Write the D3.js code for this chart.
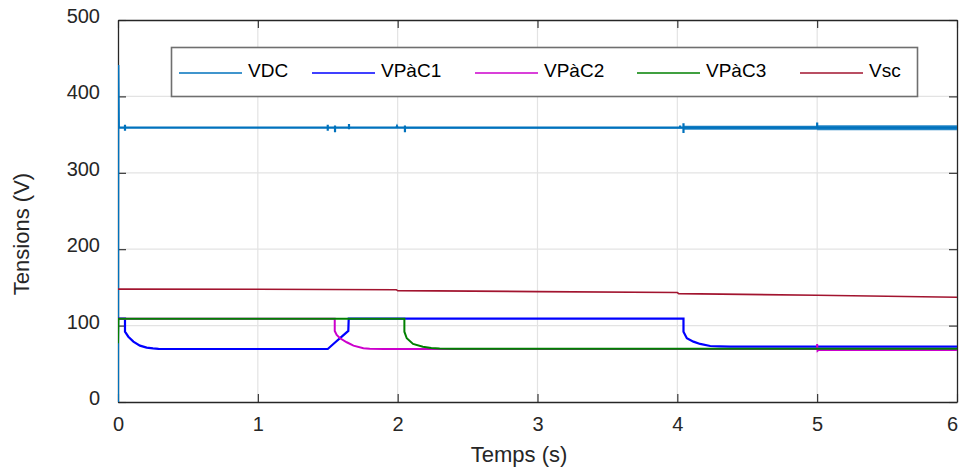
<!DOCTYPE html>
<html>
<head>
<meta charset="utf-8">
<script src="https://cdn.jsdelivr.net/npm/d3@7/dist/d3.min.js"></script>
<style>
  html, body { margin: 0; padding: 0; background: #fff; }
  svg { display: block; font-family: "Liberation Sans", Arial, Helvetica, sans-serif; }
</style>
</head>
<body>
<svg id="chart" width="959" height="470"></svg>
<script>
// ---- data -------------------------------------------------------------
const seriesNames = ["VDC", "VPàC1", "VPàC2", "VPàC3", "Vsc"];
const xTicks = [0, 1, 2, 3, 4, 5, 6];
const yTicks = [0, 100, 200, 300, 400, 500];

// DC bus voltage (time s, value V), with the short switching spikes
const vdcT = [0, 0.002, 0.006, 0.05, 0.05, 0.05, 0.05, 1.50, 1.50, 1.50, 1.50, 1.552, 1.552, 1.552, 1.552,
              1.652, 1.652, 1.652, 1.652, 1.99, 1.995, 2.0, 2.052, 2.052, 2.052, 2.052,
              4.02, 4.02, 4.02, 4.044, 4.044, 4.044, 4.044, 5.0, 5.0, 5.0, 6.0];
const vdcV = [0, 441, 359, 359, 363, 355, 359, 359, 363, 355, 359, 359, 362, 353, 359,
              359, 364, 357, 359, 359, 361, 359, 359, 362, 353, 359,
              359, 362, 359, 359, 365, 352, 359, 359, 366, 359, 359];
// half-width of the DC bus ripple band (time s, V)
const rippleT = [2.052, 4.044, 4.044, 5.0, 5.0, 6.0];
const rippleV = [1.0, 1.0, 2.6, 2.6, 3.2, 3.2];

// supercapacitor-side converter voltages
const pac1T = [0, 0.05, 0.05, 0.074, 0.11, 0.157, 0.205, 0.25, 0.29, 0.35, 1.50, 1.55, 1.60, 1.647, 1.65,
               4.044, 4.044, 4.068, 4.115, 4.163, 4.235, 4.30, 4.378, 4.5, 6.0];
const pac1V = [109, 109, 92, 85.5, 79, 73.8, 71.2, 70.2, 69.6, 69.4, 69.4, 77.5, 85.5, 93, 109,
               109, 92, 83.4, 79, 76, 73.3, 72.8, 72.4, 72.4, 72.4];
const pac2T = [0, 1.55, 1.55, 1.564, 1.588, 1.636, 1.684, 1.755, 1.80, 1.90, 5.0, 5.0, 5.003, 5.01, 6.0];
const pac2V = [109, 109, 93, 87.7, 83.4, 78.2, 73.8, 70.3, 69.6, 69.4, 69.4, 76, 67, 68, 68];
const pac3T = [0, 0.003, 2.048, 2.048, 2.065, 2.11, 2.18, 2.24, 2.30, 2.40, 6.0];
const pac3V = [77, 109, 109, 92, 83.4, 76, 72.4, 70.8, 70.0, 69.8, 69.8];

// supercapacitor voltage
const vscT = [0, 1.0, 1.99, 2.0, 3.0, 4.0, 4.01, 5.0, 6.0];
const vscV = [147.8, 147.5, 147.0, 145.8, 144.5, 143.3, 141.8, 139.8, 137.2];

// ---- layout -------------------------------------------------------------
const plot = { left: 118, right: 957, top: 20, bottom: 402 };
const colors = ["#0072BD", "#0000FF", "#CC00CC", "#008000", "#A2142F"];
const axisColor = "#262626";
const gridColor = "#e3e3e3";

const svg = d3.select("#chart");
const x = d3.scaleLinear().domain([0, 6]).range([plot.left, plot.right]);
const y = d3.scaleLinear().domain([0, 500]).range([plot.bottom, plot.top]);

svg.append("defs").append("clipPath").attr("id", "plotClip")
  .append("rect").attr("x", plot.left).attr("y", plot.top)
  .attr("width", plot.right - plot.left).attr("height", plot.bottom - plot.top);

// grid
const grid = svg.append("g");
grid.selectAll("line.gx").data(xTicks.slice(1, -1)).join("line")
  .attr("x1", d => x(d)).attr("x2", d => x(d))
  .attr("y1", plot.top).attr("y2", plot.bottom)
  .attr("stroke", gridColor).attr("stroke-width", 1.2);
grid.selectAll("line.gy").data(yTicks.slice(1, -1)).join("line")
  .attr("y1", d => y(d)).attr("y2", d => y(d))
  .attr("x1", plot.left).attr("x2", plot.right)
  .attr("stroke", gridColor).attr("stroke-width", 1.2);

// box and inward ticks via d3 axes
const tickLen = 8;
function styleAxis(g) {
  g.select(".domain").attr("stroke", axisColor).attr("stroke-width", 1.3);
  g.selectAll(".tick line").attr("stroke", axisColor).attr("stroke-width", 1.1);
}
const xAxisB = svg.append("g").attr("transform", `translate(0,${plot.bottom})`)
  .call(d3.axisBottom(x).tickValues(xTicks).tickSize(-tickLen).tickSizeOuter(0).tickFormat(d3.format("d")));
styleAxis(xAxisB);
xAxisB.selectAll(".tick text").attr("fill", axisColor).attr("font-size", 20)
  .attr("y", 0).attr("dy", 0)
  .attr("transform", d => d === 6 ? "translate(-5,29)" : "translate(0,29)");
const xAxisT = svg.append("g").attr("transform", `translate(0,${plot.top})`)
  .call(d3.axisTop(x).tickValues(xTicks).tickSize(-tickLen).tickSizeOuter(0).tickFormat(""));
styleAxis(xAxisT);
const yAxisL = svg.append("g").attr("transform", `translate(${plot.left},0)`)
  .call(d3.axisLeft(y).tickValues(yTicks).tickSize(-tickLen).tickSizeOuter(0).tickFormat(d3.format("d")));
styleAxis(yAxisL);
yAxisL.selectAll(".tick text").attr("fill", axisColor).attr("font-size", 20)
  .attr("x", -18).attr("dy", "0.32em").attr("transform", "translate(0,-4)");
const yAxisR = svg.append("g").attr("transform", `translate(${plot.right},0)`)
  .call(d3.axisRight(y).tickValues(yTicks).tickSize(-tickLen).tickSizeOuter(0).tickFormat(""));
styleAxis(yAxisR);
svg.selectAll(".tick text").attr("font-family", "Liberation Sans, Arial, sans-serif");

// axis titles
svg.append("text").attr("x", 519).attr("y", 462)
  .attr("text-anchor", "middle").attr("font-size", 22).attr("fill", axisColor)
  .text("Temps (s)");
svg.append("text").attr("transform", `translate(29,${(plot.top + plot.bottom) / 2 + 23}) rotate(-90)`)
  .attr("text-anchor", "middle").attr("font-size", 22).attr("fill", axisColor)
  .text("Tensions (V)");

// ---- series -------------------------------------------------------------
const data = svg.append("g").attr("clip-path", "url(#plotClip)");
const line = d3.line().x(d => x(d[0])).y(d => y(d[1]));
const zip = (ts, vs) => ts.map((t, i) => [t, vs[i]]);

// DC bus ripple band
const band = d3.area().x(d => x(d[0]))
  .y0(d => y(359 - d[1])).y1(d => y(359 + d[1]));
data.append("path").datum(zip(rippleT, rippleV)).attr("d", band)
  .attr("fill", colors[0]).attr("opacity", 0.85);

const series = [zip(vdcT, vdcV), zip(pac1T, pac1V), zip(pac2T, pac2V), zip(pac3T, pac3V), zip(vscT, vscV)];
const widths = [2.2, 2.2, 2.0, 2.0, 1.6];
series.forEach((s, i) => {
  data.append("path").datum(s).attr("d", line)
    .attr("fill", "none").attr("stroke", colors[i]).attr("stroke-width", widths[i])
    .attr("stroke-linejoin", "miter");
});

// ---- legend -------------------------------------------------------------
const legend = svg.append("g");
legend.append("rect").attr("x", 171.5).attr("y", 47.5).attr("width", 746).attr("height", 49)
  .attr("fill", "#fff").attr("stroke", "#6f6f6f").attr("stroke-width", 1.6);
const legendX = [179, 312, 475, 637, 800];
seriesNames.forEach((name, i) => {
  const g = legend.append("g").attr("transform", `translate(${legendX[i]},0)`);
  g.append("line").attr("x1", 0).attr("x2", 63).attr("y1", 73).attr("y2", 73)
    .attr("stroke", colors[i]).attr("stroke-width", 1.5);
  g.append("text").attr("x", 69).attr("y", 77).attr("font-size", 19).attr("fill", "#000").text(name);
});
</script>
</body>
</html>
